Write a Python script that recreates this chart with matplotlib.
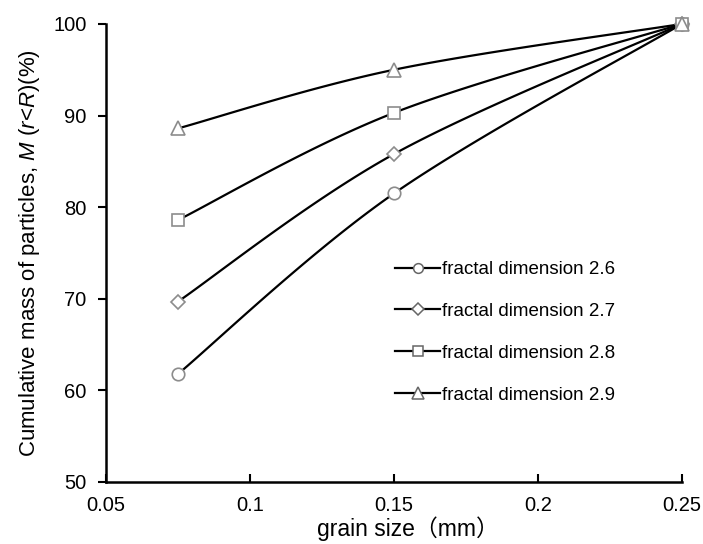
import numpy as np
import matplotlib
matplotlib.use("Agg")
import matplotlib.pyplot as plt
from matplotlib.lines import Line2D

plt.rcParams['font.family'] = ['Liberation Sans', 'Noto Sans CJK SC', 'DejaVu Sans']
plt.rcParams['mathtext.fontset'] = 'custom'
plt.rcParams['mathtext.rm'] = 'Liberation Sans'
plt.rcParams['mathtext.it'] = 'Liberation Sans:italic'

grain_size = [0.075, 0.15, 0.25]
labels = ["fractal dimension 2.6", "fractal dimension 2.7",
          "fractal dimension 2.8", "fractal dimension 2.9"]
d26 = [61.8, 81.5, 100.0]
d27 = [69.7, 85.8, 100.0]
d28 = [78.6, 90.3, 100.0]
d29 = [88.6, 95.0, 100.0]
series = [d26, d27, d28, d29]
markers = ['o', 'D', 's', '^']
msizes = [9, 7, 9, 10]
leg_msizes = [7, 6, 7, 8]

fig = plt.figure(figsize=(7.03, 5.44), dpi=100)
ax = fig.add_axes([0.151, 0.114, 0.819, 0.842])
ax.set_xlim(0.05, 0.25)
ax.set_ylim(50, 100)


def smooth(ax, xs, ys, n=40):
    pts = ax.transData.transform(np.column_stack([xs, ys]))
    out = []
    m = len(pts)
    for i in range(m - 1):
        p0 = pts[i - 1] if i > 0 else pts[i]
        p1 = pts[i]
        p2 = pts[i + 1]
        p3 = pts[i + 2] if i + 2 < m else pts[i + 1]
        c1 = p1 + (p2 - p0) / 6.0
        c2 = p2 - (p3 - p1) / 6.0
        t = np.linspace(0, 1, n)[:, None]
        seg = ((1 - t) ** 3) * p1 + 3 * ((1 - t) ** 2) * t * c1 + 3 * (1 - t) * t ** 2 * c2 + t ** 3 * p2
        out.append(seg if i == 0 else seg[1:])
    out = np.vstack(out)
    data = ax.transData.inverted().transform(out)
    return data[:, 0], data[:, 1]


edge = '#8c8c8c'
handles = []
for ys, mk, ms, lms, lab in zip(series, markers, msizes, leg_msizes, labels):
    sx, sy = smooth(ax, grain_size, ys)
    ax.plot(sx, sy, color='black', lw=1.6, zorder=2)
    ax.plot(grain_size, ys, linestyle='none', marker=mk, ms=ms, mfc='white',
            mec=edge, mew=1.2, zorder=3, clip_on=False)
    handles.append(Line2D([], [], color='black', lw=1.6, marker=mk, ms=lms,
                          mfc='white', mec='#666666', mew=1.1, label=lab))

leg = ax.legend(handles=handles, loc='upper left', bbox_to_anchor=(0.502, 0.4825),
                frameon=False, fontsize=13.5, handlelength=2.4, handletextpad=0.1,
                labelspacing=1.32, borderaxespad=0, borderpad=0)

for s in ['top', 'right']:
    ax.spines[s].set_visible(False)
for s in ['left', 'bottom']:
    ax.spines[s].set_linewidth(1.8)
    ax.spines[s].set_color('black')

ax.set_xticks([0.05, 0.1, 0.15, 0.2, 0.25])
ax.set_xticklabels(['0.05', '0.1', '0.15', '0.2', '0.25'])
ax.set_yticks([50, 60, 70, 80, 90, 100])
ax.tick_params(axis='x', direction='in', length=6, width=1.5, labelsize=14.5, pad=10)
ax.tick_params(axis='y', direction='out', length=6, width=1.5, labelsize=14.5, pad=8)

ax.set_xlabel('grain size（mm）', fontsize=16.5, labelpad=1, x=0.524,
              family=['Liberation Sans', 'Noto Sans CJK SC'])
ax.set_ylabel('Cumulative mass of particles, $M$ ($r$<$R$)(%)', fontsize=16, labelpad=8)

fig.savefig('out.png', dpi=100)
